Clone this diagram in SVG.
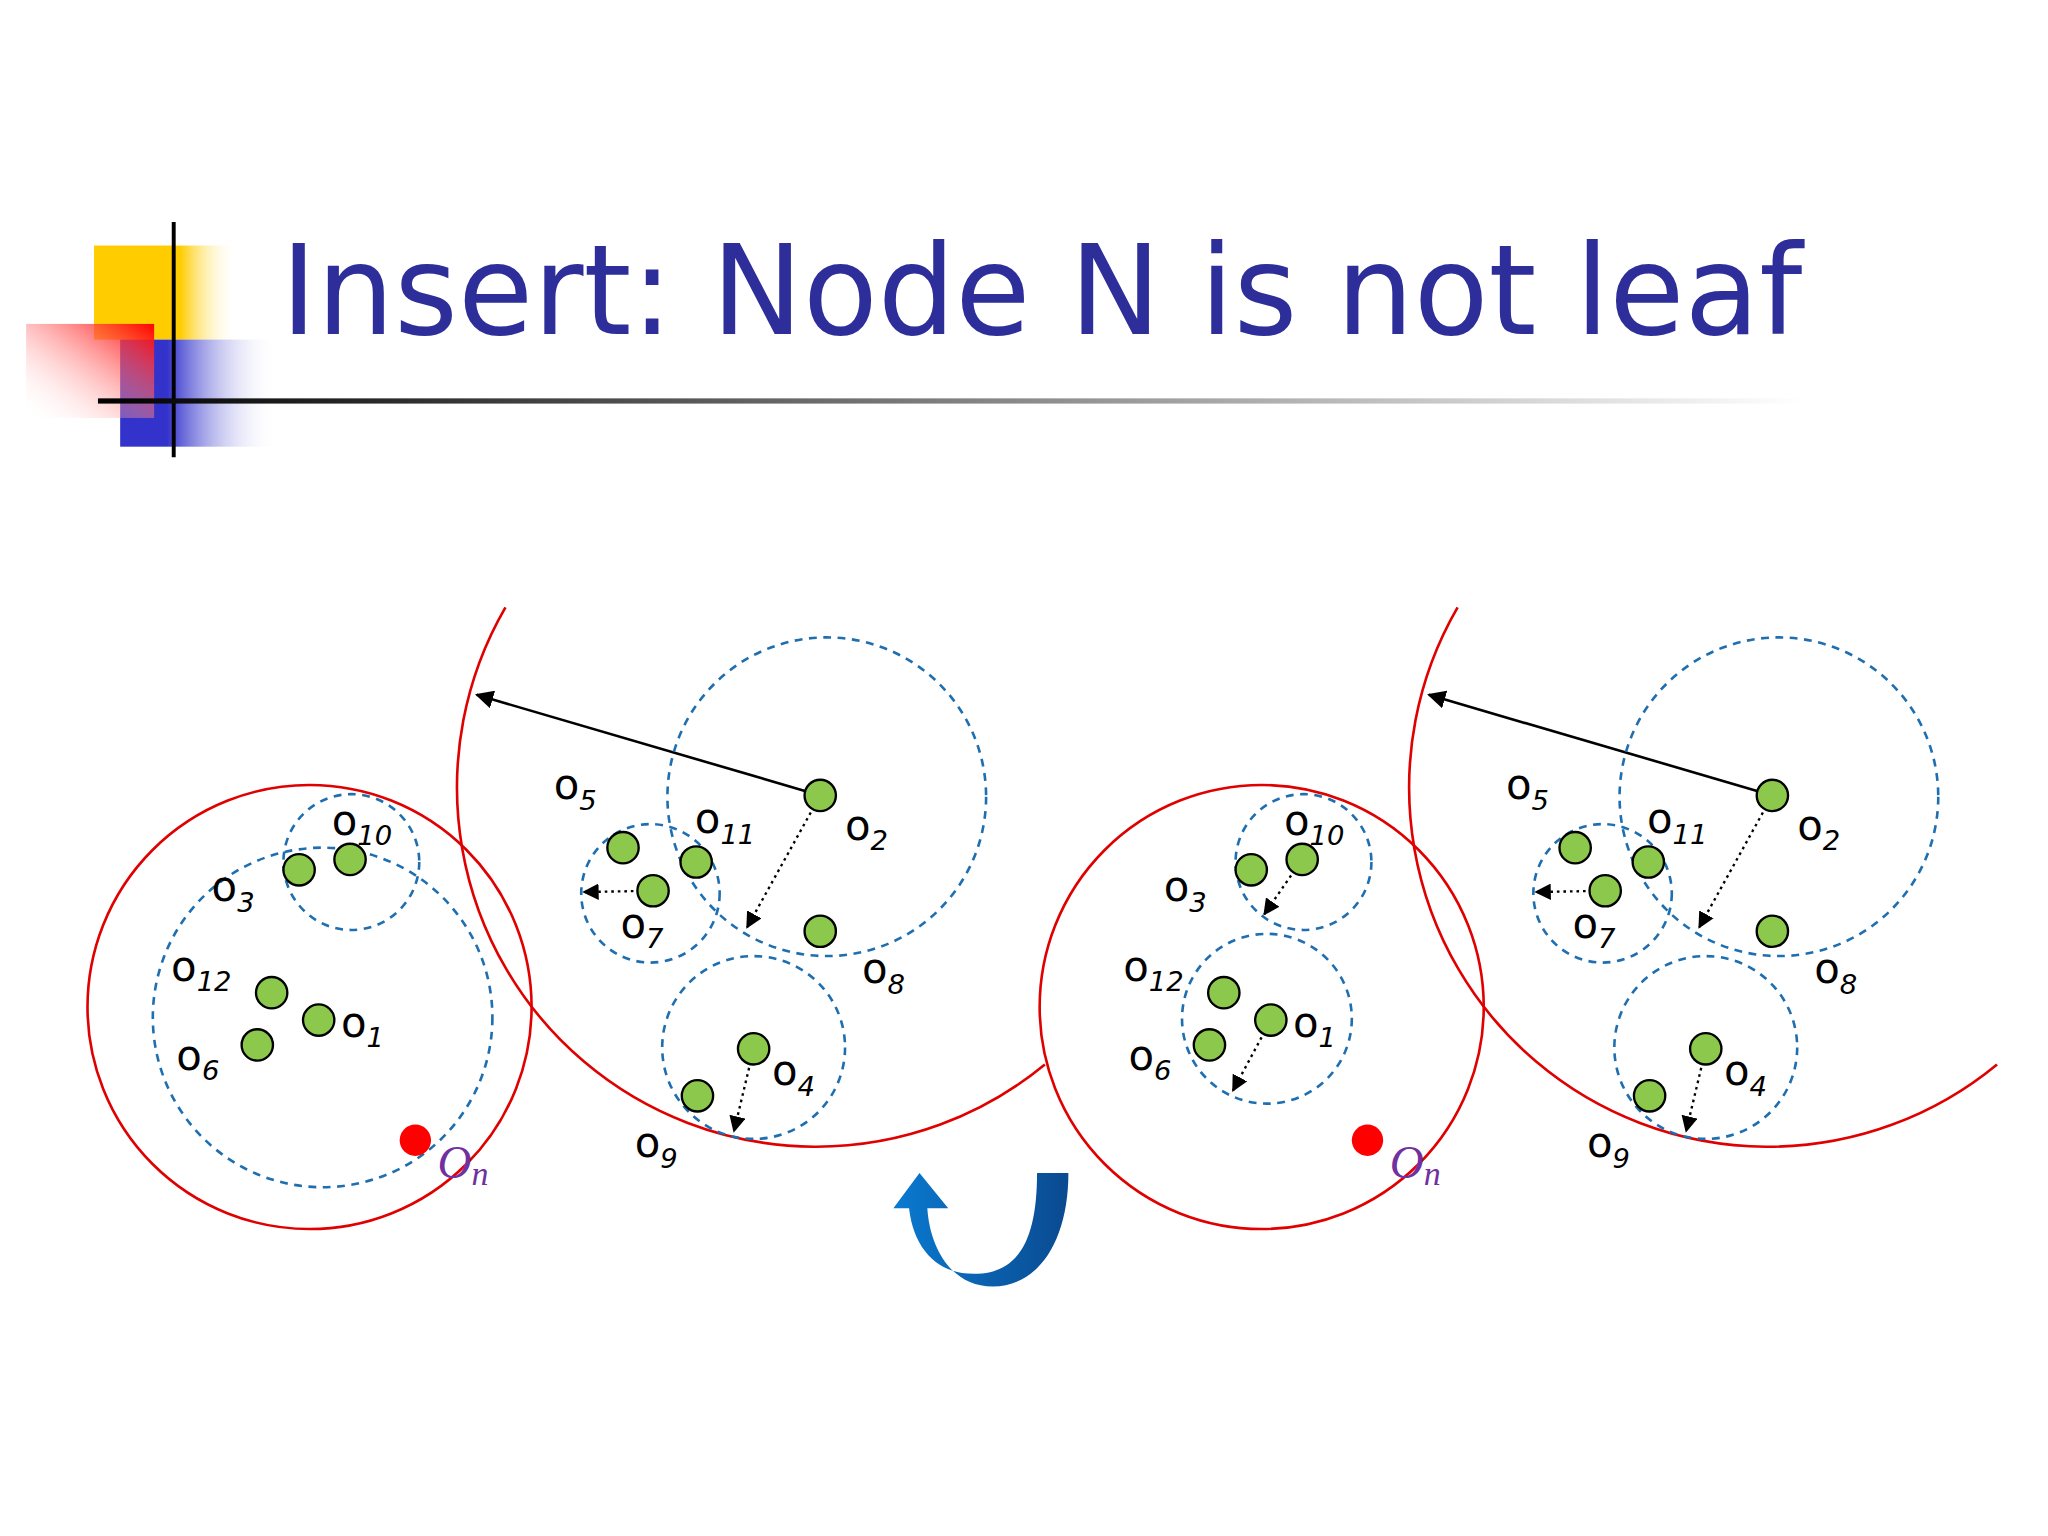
<svg xmlns="http://www.w3.org/2000/svg" width="2048" height="1536" viewBox="0 0 2048 1536">
<style>
.red{fill:none;stroke:#e00000;stroke-width:2}
.dash{fill:none;stroke:#1f6fb0;stroke-width:2;stroke-dasharray:6 5}
.dot{fill:#8cc84b;stroke:#000;stroke-width:1.8}
.lbl{font-family:"DejaVu Sans",sans-serif;font-size:32px;fill:#000}
.sub{font-size:21px;font-style:italic}
.on{font-family:"Liberation Serif",serif;font-style:italic;font-size:36px;fill:#7030a0}
.dotted{stroke:#000;stroke-width:1.8;stroke-dasharray:2 3;fill:none;marker-end:url(#ah)}
</style>
<defs>
<marker id="ah" viewBox="0 0 10 10" refX="9" refY="5" markerWidth="7" markerHeight="7" orient="auto"><path d="M0,0L10,5L0,10z" fill="#000"/></marker>
<linearGradient id="gy" x1="0" x2="1"><stop offset="0.6" stop-color="#ffcc00"/><stop offset="1" stop-color="#fff" stop-opacity="0"/></linearGradient>
<linearGradient id="gr" x1="1" x2="0" y1="0" y2="1"><stop offset="0" stop-color="#ff0000"/><stop offset="1" stop-color="#fff" stop-opacity="0"/></linearGradient>
<linearGradient id="gb" x1="0" x2="1"><stop offset="0.3" stop-color="#3333cc"/><stop offset="1" stop-color="#fff" stop-opacity="0"/></linearGradient>
<linearGradient id="gl" x1="0" x2="1"><stop offset="0" stop-color="#000"/><stop offset="1" stop-color="#fff"/></linearGradient>
<linearGradient id="gu" x1="0" x2="1"><stop offset="0" stop-color="#0a7ad0"/><stop offset="1" stop-color="#0a4a90"/></linearGradient>
</defs>
<g transform="scale(1.3061)">
<g id="decor">
<rect x="72" y="188" width="110" height="72" fill="url(#gy)"/>
<rect x="92" y="260" width="120" height="82" fill="url(#gb)"/>
<rect x="20" y="248" width="98" height="72" fill="url(#gr)"/>
<line x1="133" y1="170" x2="133" y2="350" stroke="#000" stroke-width="3"/>
<rect x="75" y="305" width="1305" height="4" fill="url(#gl)"/>
<text x="215" y="256" font-family="'DejaVu Sans',sans-serif" font-size="96" fill="#2e2e9a" textLength="1165" lengthAdjust="spacingAndGlyphs">Insert: Node N is not leaf</text>
</g>
<g id="connectors">
<line x1="628" y1="609" x2="365" y2="532" stroke="#000" stroke-width="2" marker-end="url(#ah)"/>
<line x1="628" y1="609" x2="572" y2="710" class="dotted"/>
<line x1="500" y1="682" x2="447" y2="683" class="dotted"/>
<line x1="577" y1="803" x2="562" y2="866" class="dotted"/>
<line x1="1357" y1="609" x2="1094" y2="532" stroke="#000" stroke-width="2" marker-end="url(#ah)"/>
<line x1="1357" y1="609" x2="1301" y2="710" class="dotted"/>
<line x1="1229" y1="682" x2="1176" y2="683" class="dotted"/>
<line x1="1306" y1="803" x2="1291" y2="866" class="dotted"/>
<line x1="997" y1="658" x2="968" y2="700" class="dotted"/>
<line x1="973" y1="781" x2="944" y2="835" class="dotted"/>
</g>
<g id="left">
<circle cx="237" cy="771" r="170" class="red"/>
<path d="M387,465 A275,275 0 0 0 800,815" class="red"/>
<circle cx="633" cy="610" r="122" class="dash"/>
<circle cx="498" cy="684" r="53" class="dash"/>
<circle cx="577" cy="802" r="70" class="dash"/>
<circle cx="269" cy="660" r="52" class="dash"/>
<circle cx="247" cy="779" r="130" class="dash"/>
<circle cx="628" cy="609" r="12" class="dot"/><circle cx="628" cy="713" r="12" class="dot"/>
<circle cx="533" cy="660" r="12" class="dot"/><circle cx="477" cy="649" r="12" class="dot"/>
<circle cx="500" cy="682" r="12" class="dot"/><circle cx="577" cy="803" r="12" class="dot"/>
<circle cx="534" cy="839" r="12" class="dot"/><circle cx="229" cy="666" r="12" class="dot"/>
<circle cx="268" cy="658" r="12" class="dot"/><circle cx="208" cy="760" r="12" class="dot"/>
<circle cx="244" cy="781" r="12" class="dot"/><circle cx="197" cy="800" r="12" class="dot"/>
<circle cx="318" cy="873" r="12" fill="#f00"/>
<text class="lbl" x="424" y="612">o<tspan class="sub" dy="8">5</tspan></text>
<text class="lbl" x="532" y="638">o<tspan class="sub" dy="8">11</tspan></text>
<text class="lbl" x="647" y="643">o<tspan class="sub" dy="8">2</tspan></text>
<text class="lbl" x="475" y="718">o<tspan class="sub" dy="8">7</tspan></text>
<text class="lbl" x="660" y="753">o<tspan class="sub" dy="8">8</tspan></text>
<text class="lbl" x="591" y="831">o<tspan class="sub" dy="8">4</tspan></text>
<text class="lbl" x="486" y="886">o<tspan class="sub" dy="8">9</tspan></text>
<text class="lbl" x="254" y="639">o<tspan class="sub" dy="8">10</tspan></text>
<text class="lbl" x="162" y="690">o<tspan class="sub" dy="8">3</tspan></text>
<text class="lbl" x="131" y="751">o<tspan class="sub" dy="8">12</tspan></text>
<text class="lbl" x="261" y="794">o<tspan class="sub" dy="8">1</tspan></text>
<text class="lbl" x="135" y="819">o<tspan class="sub" dy="8">6</tspan></text>
<text class="on" x="335" y="902">O<tspan font-size="26" dy="5">n</tspan></text>
</g>
<g id="right">
<circle cx="966" cy="771" r="170" class="red"/>
<path d="M1116,465 A275,275 0 0 0 1529,815" class="red"/>
<circle cx="1362" cy="610" r="122" class="dash"/>
<circle cx="1227" cy="684" r="53" class="dash"/>
<circle cx="1306" cy="802" r="70" class="dash"/>
<circle cx="998" cy="660" r="52" class="dash"/>
<circle cx="970" cy="780" r="65" class="dash"/>
<circle cx="1357" cy="609" r="12" class="dot"/><circle cx="1357" cy="713" r="12" class="dot"/>
<circle cx="1262" cy="660" r="12" class="dot"/><circle cx="1206" cy="649" r="12" class="dot"/>
<circle cx="1229" cy="682" r="12" class="dot"/><circle cx="1306" cy="803" r="12" class="dot"/>
<circle cx="1263" cy="839" r="12" class="dot"/><circle cx="958" cy="666" r="12" class="dot"/>
<circle cx="997" cy="658" r="12" class="dot"/><circle cx="937" cy="760" r="12" class="dot"/>
<circle cx="973" cy="781" r="12" class="dot"/><circle cx="926" cy="800" r="12" class="dot"/>
<circle cx="1047" cy="873" r="12" fill="#f00"/>
<text class="lbl" x="1153" y="612">o<tspan class="sub" dy="8">5</tspan></text>
<text class="lbl" x="1261" y="638">o<tspan class="sub" dy="8">11</tspan></text>
<text class="lbl" x="1376" y="643">o<tspan class="sub" dy="8">2</tspan></text>
<text class="lbl" x="1204" y="718">o<tspan class="sub" dy="8">7</tspan></text>
<text class="lbl" x="1389" y="753">o<tspan class="sub" dy="8">8</tspan></text>
<text class="lbl" x="1320" y="831">o<tspan class="sub" dy="8">4</tspan></text>
<text class="lbl" x="1215" y="886">o<tspan class="sub" dy="8">9</tspan></text>
<text class="lbl" x="983" y="639">o<tspan class="sub" dy="8">10</tspan></text>
<text class="lbl" x="891" y="690">o<tspan class="sub" dy="8">3</tspan></text>
<text class="lbl" x="860" y="751">o<tspan class="sub" dy="8">12</tspan></text>
<text class="lbl" x="990" y="794">o<tspan class="sub" dy="8">1</tspan></text>
<text class="lbl" x="864" y="819">o<tspan class="sub" dy="8">6</tspan></text>
<text class="on" x="1064" y="902">O<tspan font-size="26" dy="5">n</tspan></text>
</g>
<g id="uturn">
<path d="M794,898 L818,898 C818,950 795,985 760,985 C728,985 712,955 710,925 L726,925 L704,898 L684,925 L696,925 C700,960 722,978 752,975 C782,972 794,945 794,898 Z" fill="url(#gu)"/>
</g>
</g>
</svg>
